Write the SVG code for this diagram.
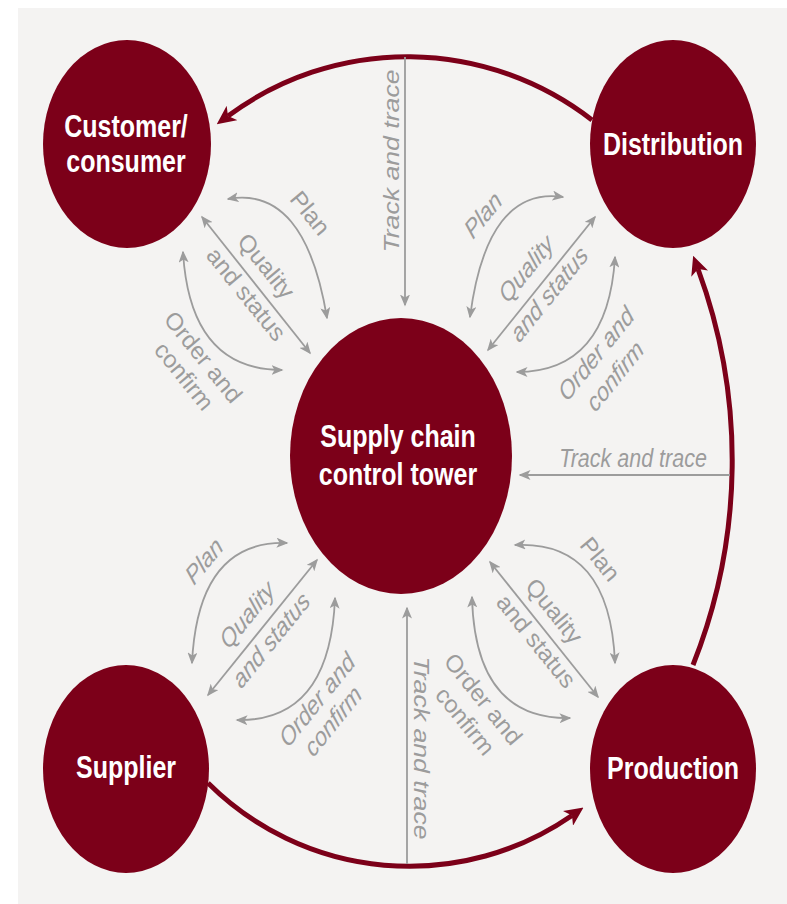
<svg xmlns="http://www.w3.org/2000/svg" width="787" height="904" viewBox="0 0 787 904">
<defs>
<style>
.bg{fill:#f4f3f2}
.node{fill:#7c0019}
.nt{font-family:"Liberation Sans",Arial,sans-serif;font-weight:bold;font-size:25px;fill:#ffffff;text-anchor:middle}
.flow{fill:none;stroke:#7c0019;stroke-width:5;marker-end:url(#redhead)}
.g{fill:none;stroke:#9c9c9c;stroke-width:1.8}
.g2{marker-start:url(#grayhead);marker-end:url(#grayhead)}
.g1{marker-end:url(#grayhead)}
.lb{font-family:"Liberation Sans",Arial,sans-serif;font-style:italic;font-size:21.5px;fill:#9c9c9c;text-anchor:middle}
</style>
<marker id="redhead" markerUnits="userSpaceOnUse" viewBox="0 0 19 18" markerWidth="19" markerHeight="18" refX="5" refY="9" orient="auto">
<path d="M0,0 L19,9 L0,18 L5,9 z" fill="#7c0019"/>
</marker>
<marker id="grayhead" markerUnits="userSpaceOnUse" viewBox="0 0 12 10" markerWidth="12" markerHeight="10" refX="10.5" refY="5" orient="auto-start-reverse">
<path d="M0,0 L12,5 L0,10 L3,5 z" fill="#9c9c9c"/>
</marker>
</defs>
<rect class="bg" x="18" y="8" width="769" height="896"/>

<g id="connectors">
<path class="flow" d="M592,120 A301,301 0 0 0 228,116"/>
<path class="flow" d="M693,665 A553,553 0 0 0 698,269"/>
<path class="flow" d="M208,783 A285.4,285.4 0 0 0 572,815.5"/>

<path class="g g1" d="M405,57 L405,305"/>
<path class="g g1" d="M407,864 L407,608"/>
<path class="g g1" d="M730,475 L520,475"/>

<path class="g g2" d="M228,199 Q305,185 327,318"/>
<path class="g g2" d="M202,217 L310,353"/>
<path class="g g2" d="M183,252 Q190,370 282,370"/>

<path class="g g2" d="M563,197 Q487,186 470,317"/>
<path class="g g2" d="M595,217 L488,350"/>
<path class="g g2" d="M615,257 Q608,372 517,372"/>

<path class="g g2" d="M287,543 Q198,540 192,663"/>
<path class="g g2" d="M317,560 L208,695"/>
<path class="g g2" d="M335,598 Q330,722 237,720"/>

<path class="g g2" d="M515,545 Q610,540 615,663"/>
<path class="g g2" d="M490,562 L598,697"/>
<path class="g g2" d="M472,597 Q475,720 570,718"/>
</g>

<g id="labels">
<text class="lb" transform="translate(393,161) scale(1,1.24) rotate(-90)" y="6">Track and trace</text>
<text class="lb" transform="translate(420,748) scale(1,1.24) rotate(90)" y="6">Track and trace</text>
<text class="lb" transform="translate(633,467) scale(1,1.24)">Track and trace</text>

<text class="lb" transform="translate(309,214) scale(1,1.24) rotate(45)" y="6">Plan</text>
<text class="lb" transform="translate(265,267) scale(1,1.24) rotate(45)" y="6">Quality</text>
<text class="lb" transform="translate(245,295) scale(1,1.24) rotate(45)" y="6">and status</text>
<text class="lb" transform="translate(202,358) scale(1,1.24) rotate(45)" y="6">Order and</text>
<text class="lb" transform="translate(183,377) scale(1,1.24) rotate(45)" y="6">confirm</text>

<text class="lb" transform="translate(484,216) scale(1,1.24) rotate(-45)" y="6">Plan</text>
<text class="lb" transform="translate(527,270) scale(1,1.24) rotate(-45)" y="6">Quality</text>
<text class="lb" transform="translate(550,295) scale(1,1.24) rotate(-45)" y="6">and status</text>
<text class="lb" transform="translate(597,355) scale(1,1.24) rotate(-45)" y="6">Order and</text>
<text class="lb" transform="translate(616,377) scale(1,1.24) rotate(-45)" y="6">confirm</text>

<text class="lb" transform="translate(205,562) scale(1,1.24) rotate(-45)" y="6">Plan</text>
<text class="lb" transform="translate(248,616) scale(1,1.24) rotate(-45)" y="6">Quality</text>
<text class="lb" transform="translate(272,641) scale(1,1.24) rotate(-45)" y="6">and status</text>
<text class="lb" transform="translate(318,701) scale(1,1.24) rotate(-45)" y="6">Order and</text>
<text class="lb" transform="translate(334,722) scale(1,1.24) rotate(-45)" y="6">confirm</text>

<text class="lb" transform="translate(599,560) scale(1,1.24) rotate(45)" y="6">Plan</text>
<text class="lb" transform="translate(553,612) scale(1,1.24) rotate(45)" y="6">Quality</text>
<text class="lb" transform="translate(535,642) scale(1,1.24) rotate(45)" y="6">and status</text>
<text class="lb" transform="translate(482,700) scale(1,1.24) rotate(45)" y="6">Order and</text>
<text class="lb" transform="translate(464,722) scale(1,1.24) rotate(45)" y="6">confirm</text>
</g>

<g id="node-customer">
<ellipse class="node" cx="127" cy="144" rx="84" ry="104"/>
<text class="nt" transform="translate(126,137) scale(1,1.24)">Customer/</text>
<text class="nt" transform="translate(126,172) scale(1,1.24)">consumer</text>
</g>
<g id="node-distribution">
<ellipse class="node" cx="673" cy="144" rx="83" ry="104"/>
<text class="nt" transform="translate(673,155) scale(1,1.24)">Distribution</text>
</g>
<g id="node-tower">
<ellipse class="node" cx="401" cy="456" rx="111" ry="138"/>
<text class="nt" transform="translate(398,447) scale(1,1.24)">Supply chain</text>
<text class="nt" transform="translate(398,485) scale(1,1.24)">control tower</text>
</g>
<g id="node-supplier">
<ellipse class="node" cx="126" cy="769" rx="83" ry="104"/>
<text class="nt" transform="translate(126,778) scale(1,1.24)">Supplier</text>
</g>
<g id="node-production">
<ellipse class="node" cx="673" cy="769" rx="83" ry="104"/>
<text class="nt" transform="translate(673,779) scale(1,1.24)">Production</text>
</g>
</svg>
